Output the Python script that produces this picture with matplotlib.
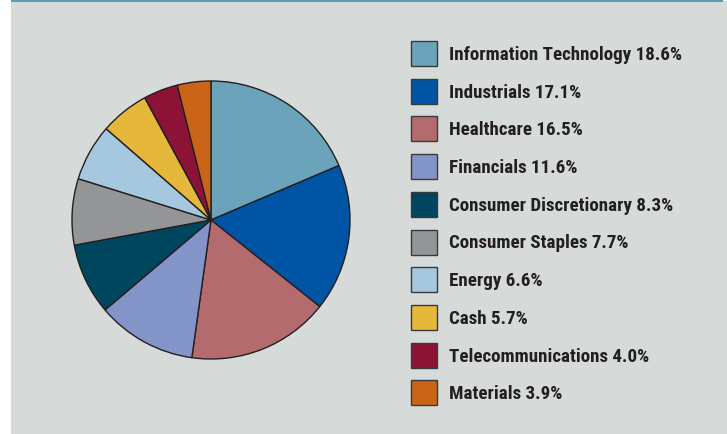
import matplotlib
matplotlib.use("Agg")
import matplotlib.pyplot as plt
from matplotlib.patches import Rectangle
from matplotlib import font_manager

sectors = ["Information Technology", "Industrials", "Healthcare", "Financials",
           "Consumer Discretionary", "Consumer Staples", "Energy", "Cash",
           "Telecommunications", "Materials"]
weights = [18.6, 17.1, 16.5, 11.6, 8.3, 7.7, 6.6, 5.7, 4.0, 3.9]
colors = ["#6ba3bb", "#0054a4", "#b36b6e", "#8394c8", "#00465e",
          "#939598", "#a5c8de", "#e5b73b", "#8c1236", "#c96418"]

names = {f.name for f in font_manager.fontManager.ttflist}
fam = "Liberation Sans"
for cand in ["Roboto Condensed", "Liberation Sans Narrow", "Open Sans Condensed",
             "Noto Sans Condensed", "Arial Narrow", "DejaVu Sans Condensed"]:
    if cand in names:
        fam = cand
        break

W, H = 727, 435
fig = plt.figure(figsize=(W / 100, H / 100), dpi=100)
fig.patch.set_facecolor("white")

# background panel
bg = fig.add_axes([0, 0, 1, 1])
bg.set_xlim(0, W)
bg.set_ylim(H, 0)
bg.axis("off")
bg.add_patch(Rectangle((11, 2), W - 11, H - 2, facecolor="#d6dad9", edgecolor="none"))
bg.add_patch(Rectangle((11, 0), 712, 2.6, facecolor="#5b9bb8", edgecolor="none"))

# pie
cx, cy, r = 211, 221, 139
ax = fig.add_axes([(cx - r) / W, 1 - (cy + r) / H, 2 * r / W, 2 * r / H])
ax.pie(weights, colors=colors, startangle=90, counterclock=False,
       wedgeprops=dict(edgecolor="#231f20", linewidth=1.0))
ax.set_aspect("equal")
ax.set_xlim(-1.0, 1.0)
ax.set_ylim(-1.0, 1.0)
ax.axis("off")

# legend
labels = [f"{s} {w:.1f}%" for s, w in zip(sectors, weights)]
x0, y0, dy = 411, 42, 37.7
renderer = fig.canvas.get_renderer()
fs = 14.0
probe = bg.text(0, 0, labels[0], fontsize=fs, fontweight="bold", family=fam)
wpx = probe.get_window_extent(renderer).width
probe.remove()
fs = min(fs * 233.0 / wpx, 16.0)

for i, (lab, c) in enumerate(zip(labels, colors)):
    y = y0 + i * dy
    bg.add_patch(Rectangle((x0, y), 26, 25, facecolor=c, edgecolor="#3a3a3a", linewidth=1.0))
    bg.text(449, y + 13, lab, fontsize=fs, fontweight="bold",
            family=fam, color="#231f20", va="center", ha="left")

fig.savefig("out.png", dpi=100, facecolor=fig.get_facecolor())
